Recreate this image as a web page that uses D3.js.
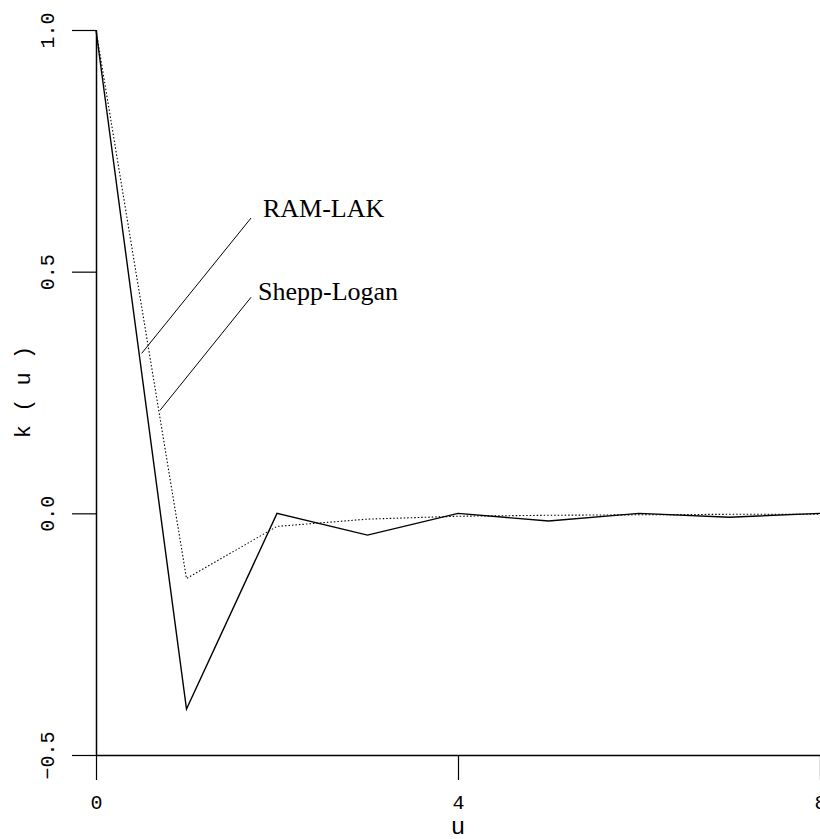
<!DOCTYPE html>
<html>
<head>
<meta charset="utf-8">
<script src="https://cdn.jsdelivr.net/npm/d3@7"></script>
<style>
  body { margin: 0; background: #fff; }
  svg { display: block; }
</style>
</head>
<body>
<svg></svg>
<script>
    // data
    u = [0, 1, 2, 3, 4, 5, 6, 7, 8];
    ramlak = [1, -0.405, 0, -0.045, 0, -0.016, 0, -0.008, 0];
    shepp = [1, -0.135, -0.027, -0.012, -0.006, -0.004, -0.003, -0.002, -0.002];
    xticks = [0, 4, 8];
    yticks = [-0.5, 0, 0.5, 1];
    notes = [
        {label: "RAM-LAK", from: [0.505, 0.331], to: [1.713, 0.611], at: [1.845, 0.613]},
        {label: "Shepp-Logan", from: [0.707, 0.213], to: [1.713, 0.447], at: [1.79, 0.441]}
    ];

    svg = d3.select("svg").attr("width", 820).attr("height", 839);

    xs = d3.scaleLinear().domain([0, 8]).range([96, 820]);
    ys = d3.scaleLinear().domain([-0.5, 1]).range([755, 30]);

    //draw the y axis
    gy = svg.append("g")
        .attr("transform", "translate(96,0)")
        .call(d3.axisLeft(ys).tickValues(yticks).tickSize(24).tickSizeOuter(0).tickFormat(d3.format(".1f")));
    gy.select(".domain").attr("stroke-width", 1.5);
    gy.selectAll(".tick line").attr("stroke-width", 1.2);
    gy.selectAll(".tick text")
        .attr("x", null).attr("dy", null)
        .attr("transform", "translate(-48,0) rotate(-90)")
        .attr("text-anchor", "middle")
        .attr("dominant-baseline", "central")
        .attr("font-family", "Liberation Mono, monospace")
        .attr("font-size", 20)
        .attr("fill", "#000");

    //draw the x axis
    gx = svg.append("g")
        .attr("transform", "translate(0,755)")
        .call(d3.axisBottom(xs).tickValues(xticks).tickSize(25).tickSizeOuter(0).tickFormat(d3.format("d")));
    gx.select(".domain").attr("stroke-width", 1.5);
    gx.selectAll(".tick line").attr("stroke-width", 1.2);
    gx.selectAll(".tick text")
        .attr("y", 48).attr("dy", null)
        .attr("dominant-baseline", "central")
        .attr("font-family", "Liberation Mono, monospace")
        .attr("font-size", 20)
        .attr("fill", "#000");

    //axis titles
    svg.append("text")
        .attr("x", 458).attr("y", 834)
        .attr("text-anchor", "middle")
        .attr("font-family", "Liberation Mono, monospace")
        .attr("font-size", 24)
        .text("u");
    svg.append("text")
        .attr("transform", "translate(30,392) rotate(-90)")
        .attr("text-anchor", "middle")
        .attr("font-family", "Liberation Mono, monospace")
        .attr("font-size", 22)
        .text("k ( u )");

    //draw the lines
    line = d3.line().x(function(d, i) { return xs(u[i]); }).y(function(d) { return ys(d); });
    svg.append("path").attr("d", line(ramlak))
        .attr("fill", "none").attr("stroke", "#000").attr("stroke-width", 1.4);
    svg.append("path").attr("d", line(shepp))
        .attr("fill", "none").attr("stroke", "#000").attr("stroke-width", 1.1)
        .attr("stroke-dasharray", "1.5,2");

    //labels with pointer lines
    svg.selectAll(".ptr").data(notes).enter().append("line")
        .attr("x1", function(d) { return xs(d.from[0]); })
        .attr("y1", function(d) { return ys(d.from[1]); })
        .attr("x2", function(d) { return xs(d.to[0]); })
        .attr("y2", function(d) { return ys(d.to[1]); })
        .attr("stroke", "#000").attr("stroke-width", 1);
    svg.selectAll(".note").data(notes).enter().append("text")
        .attr("x", function(d) { return xs(d.at[0]); })
        .attr("y", function(d) { return ys(d.at[1]); })
        .attr("font-family", "Liberation Serif, serif")
        .attr("font-size", 26)
        .text(function(d) { return d.label; });
</script>
</body>
</html>
